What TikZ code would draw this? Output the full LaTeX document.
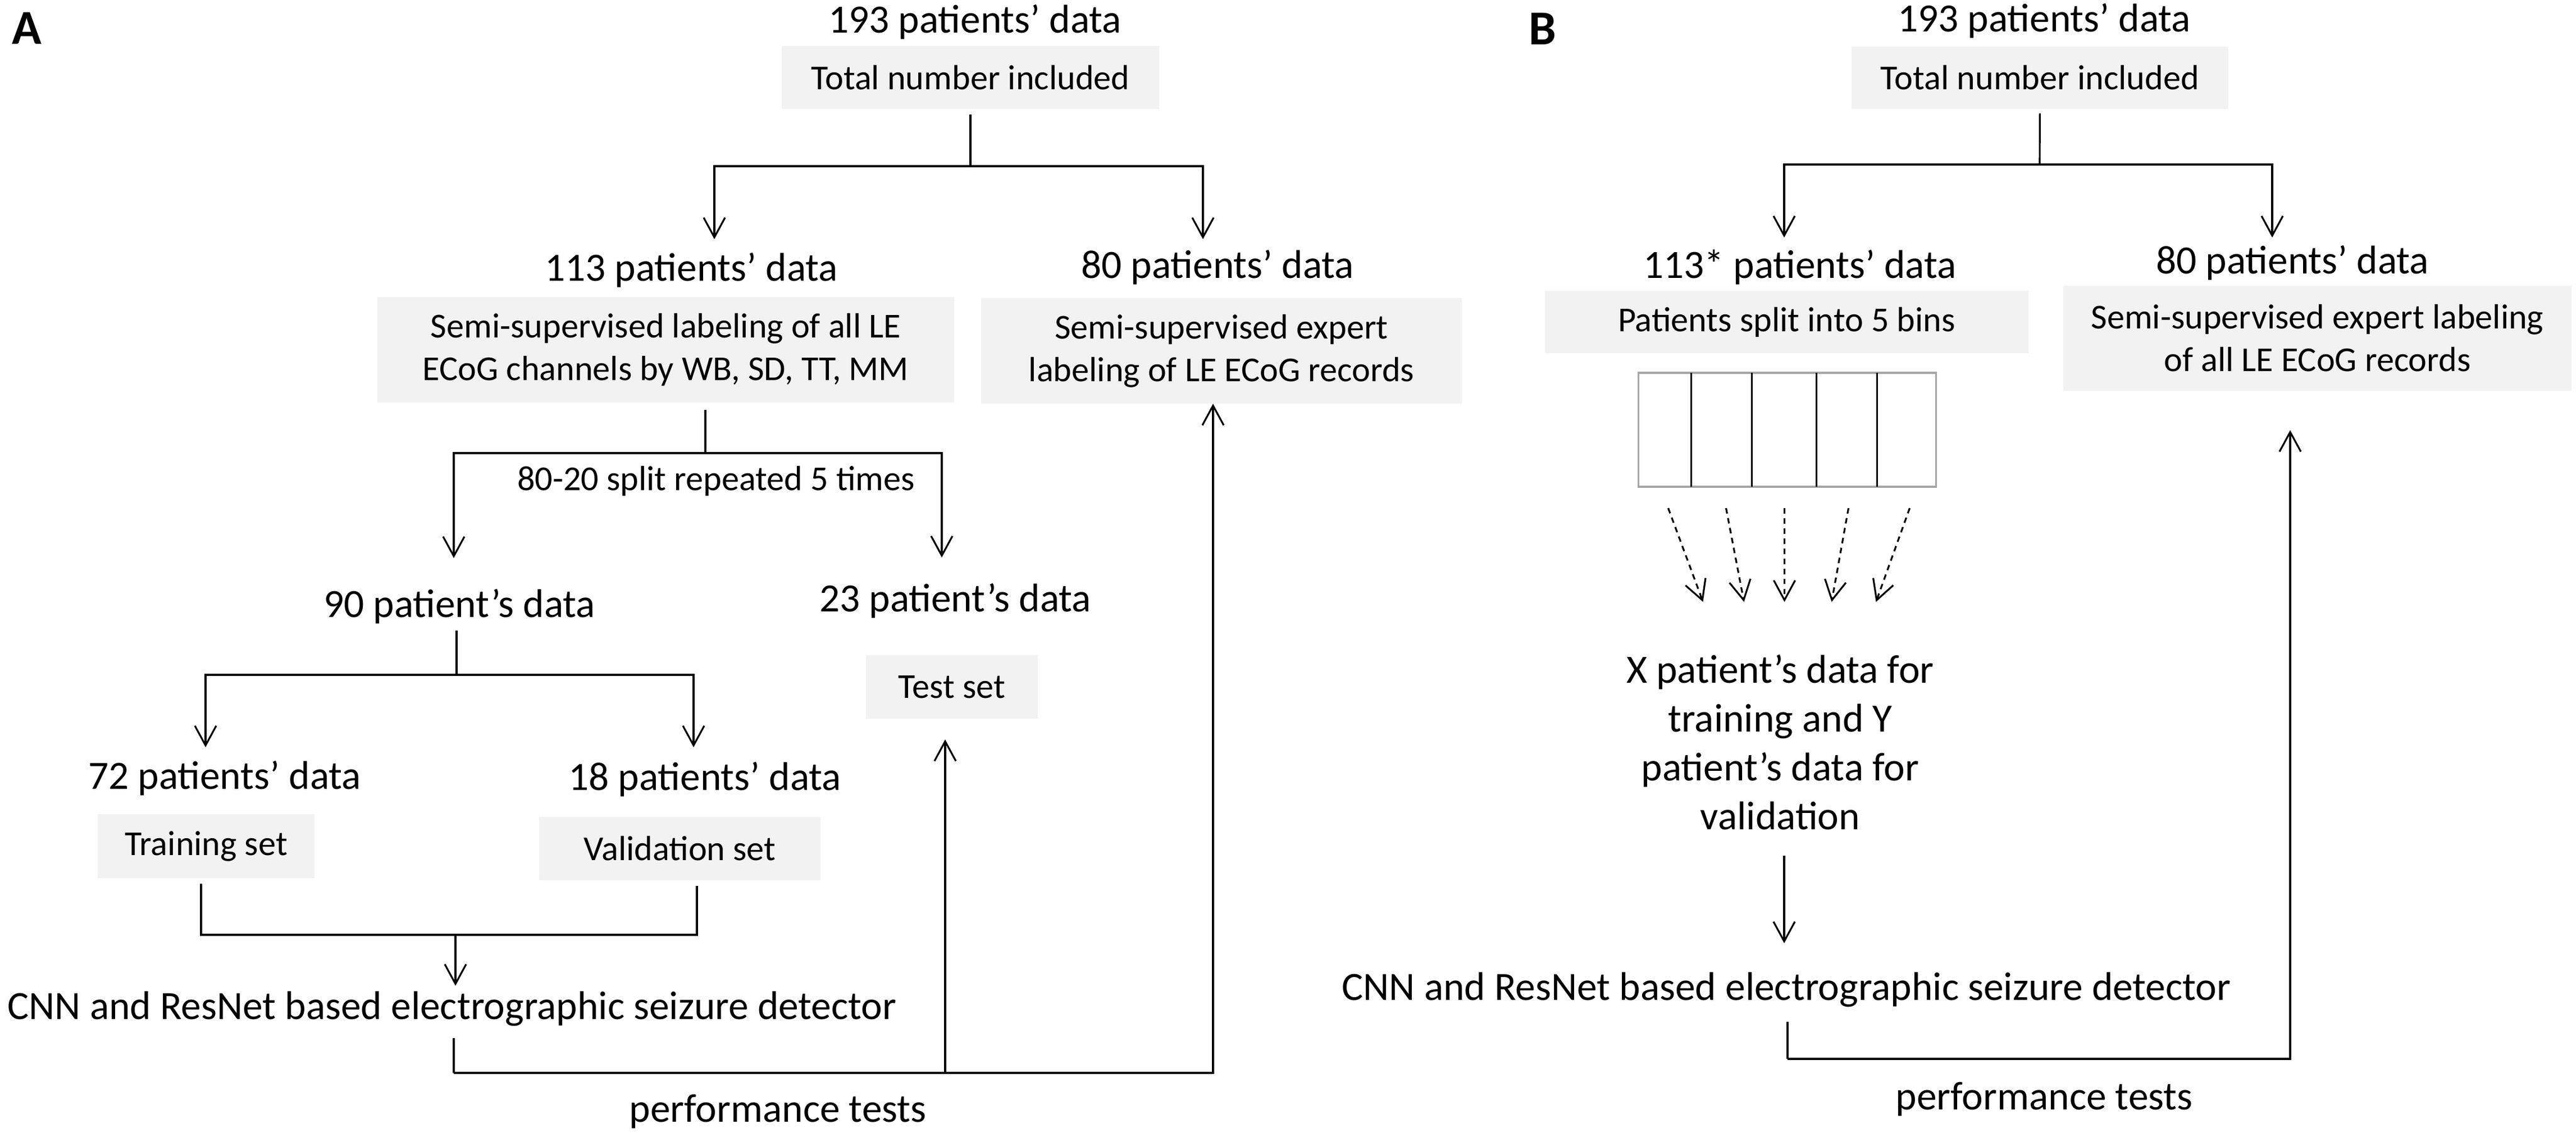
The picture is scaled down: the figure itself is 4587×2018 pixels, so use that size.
\documentclass[tikz,border=0pt]{standalone}
\usepackage{fontspec}
\setmainfont{Carlito}
\usetikzlibrary{arrows.meta,calc}

\begin{document}
\begin{tikzpicture}[x=0.01cm,y=-0.01cm,
  >={Straight Barb[length=3.5mm,width=3.8mm]},
  hd/.style={anchor=base,inner sep=0pt,font=\fontsize{20.3pt}{24.75pt}\selectfont},
  box/.style={fill=gray!10,inner sep=0pt,outer sep=0pt,align=center,font=\fontsize{17.7pt}{21.6pt}\selectfont},
  ln/.style={line width=0.9pt},
  dsh/.style={->,line width=0.9pt,dash pattern=on 2.8pt off 2.3pt},
  panel/.style={anchor=base,inner sep=0pt,font=\fontsize{24.7pt}{28pt}\selectfont\bfseries}]

\useasboundingbox (0,0) rectangle (4587,2018);

% panel A
\node[panel] (pA) at (48,78) {A};

\node[hd] (a193) at (1736,58) {193 patients’ data};
\node[box,minimum width=6.72cm,minimum height=1.12cm] (atot) at (1728,138) {Total number included};
\node[hd] (a113) at (1231,500) {113 patients’ data};
\node[hd] (a80) at (2168,495) {80 patients’ data};
\node[box,minimum width=10.27cm,minimum height=1.88cm] (albl) at (1185.5,623) {Semi-supervised labeling of all LE\\ECoG channels by WB, SD, TT, MM};
\node[box,minimum width=8.56cm,minimum height=1.88cm] (aexp) at (2175,625) {Semi-supervised expert\\labeling of LE ECoG records};
\node[hd,font=\fontsize{17.7pt}{21.6pt}\selectfont] (asplit) at (1275,873) {80-20 split repeated 5 times};
\node[hd] (a90) at (818,1099) {90 patient’s data};
\node[hd] (a23) at (1701,1089) {23 patient’s data};
\node[box,minimum width=3.06cm,minimum height=1.13cm] (atst) at (1695,1223.5) {Test set};
\node[hd] (a72) at (400,1405) {72 patients’ data};
\node[hd] (a18) at (1255,1407) {18 patients’ data};
\node[box,minimum width=3.86cm,minimum height=1.14cm] (atrn) at (367,1507) {Training set};
\node[box,minimum width=5.01cm,minimum height=1.13cm] (aval) at (1210.5,1511.5) {Validation set};
\node[hd] (acnn) at (805,1815) {CNN and ResNet based electrographic seizure detector};
\node[hd] (aperf) at (1385,1998) {performance tests};

\coordinate (sa0) at (1728,296);
\coordinate (ta113) at (1272,426);
\coordinate (ta80) at (2142,426);
\draw[ln,shorten <=1mm] (atot) -- (sa0);
\draw[ln,->] (sa0) -| (ta113);
\draw[ln,->] (sa0) -| (ta80);

\coordinate (sa1) at (1256,807);
\coordinate (ta90) at (808,994);
\coordinate (ta23) at (1677,993);
\draw[ln,shorten <=1.3mm] (albl.south -| sa1) -- (sa1);
\draw[ln,->] (sa1) -| (ta90);
\draw[ln,->] (sa1) -| (ta23);

\coordinate (sa2) at (813,1202);
\coordinate (ta72) at (366,1331);
\coordinate (ta18) at (1235,1331);
\draw[ln,shorten <=1.2mm] (a90.south -| sa2) -- (sa2);
\draw[ln,->] (sa2) -| (ta72);
\draw[ln,->] (sa2) -| (ta18);

\coordinate (ma) at (358,1665);
\coordinate (mb) at (1241,1665);
\coordinate (mc) at (811,1665);
\draw[ln,shorten <=1mm,shorten >=1mm] (atrn.south -| ma) -- (ma) -- (mb) -- (aval.south -| mb);
\draw[ln,->,shorten >=0.9mm] (mc) -- (acnn.north -| mc);

\coordinate (pa) at (808,1911);
\coordinate (pt) at (1683,1911);
\coordinate (pb) at (2160,1911);
\draw[ln,shorten <=2.1mm] (acnn.south -| pa) -- (pa);
\draw[ln,->] (pa) -| (aexp.south -| pb);
\draw[ln,->,shorten >=3.7mm] (pt) -- (atst.south -| pt);

% panel B
\node[panel] (pB) at (2747,79) {B};

\node[hd] (b193) at (3640,56) {193 patients’ data};
\node[box,minimum width=6.71cm,minimum height=1.11cm] (btot) at (3632.5,138.5) {Total number included};
\node[hd] (b113) at (3205,495) {113* patients’ data};
\node[hd] (b80) at (4082,487) {80 patients’ data};
\node[box,minimum width=8.61cm,minimum height=1.11cm] (bbin) at (3181.5,573.5) {Patients split into 5 bins};
\node[box,minimum width=9.05cm,minimum height=1.87cm] (bexp) at (4126.5,602.5) {Semi-supervised expert labeling\\of all LE ECoG records};
\node[draw=gray!70,line width=0.9pt,minimum width=5.29cm,minimum height=2.03cm,inner sep=0pt,outer sep=0pt] (bins) at (3182.5,765.5) {};
\node[hd,anchor=center,align=center] (bxy) at (3170,1322) {X patient’s data for\\training and Y\\patient’s data for\\validation};
\node[hd] (bcnn) at (3181,1781) {CNN and ResNet based electrographic seizure detector};
\node[hd] (bperf) at (3640,1976) {performance tests};

\coordinate (sb0) at (3632,293);
\coordinate (tb113) at (3177,423);
\coordinate (tb80) at (4046,423);
\draw[ln,shorten <=0.8mm] (btot) -- (sb0);
\draw[ln,->] (sb0) -| (tb113);
\draw[ln,->] (sb0) -| (tb80);

\foreach \d in {94,202,317,425}
  \draw[ln] (bins.south west) ++(\d,0) -- ++(0,-203);

\foreach \a/\b in {-212/-150,-109/-77,-5/-5,109/79,218/158}
  \draw[dsh] ($(bins.south)+(\a,38)$) -- ($(bins.south)+(\b,205)$);

\coordinate (tb1) at (3177,1680);
\draw[ln,->,shorten <=4.5mm] (bxy.south -| tb1) -- (tb1);

\coordinate (qb) at (3183,1886);
\coordinate (qc) at (4078,1886);
\draw[ln,shorten <=2.6mm] (bcnn.south -| qb) -- (qb);
\draw[ln,->,shorten >=7mm] (qb) -| (bexp.south -| qc);

\end{tikzpicture}
\end{document}
